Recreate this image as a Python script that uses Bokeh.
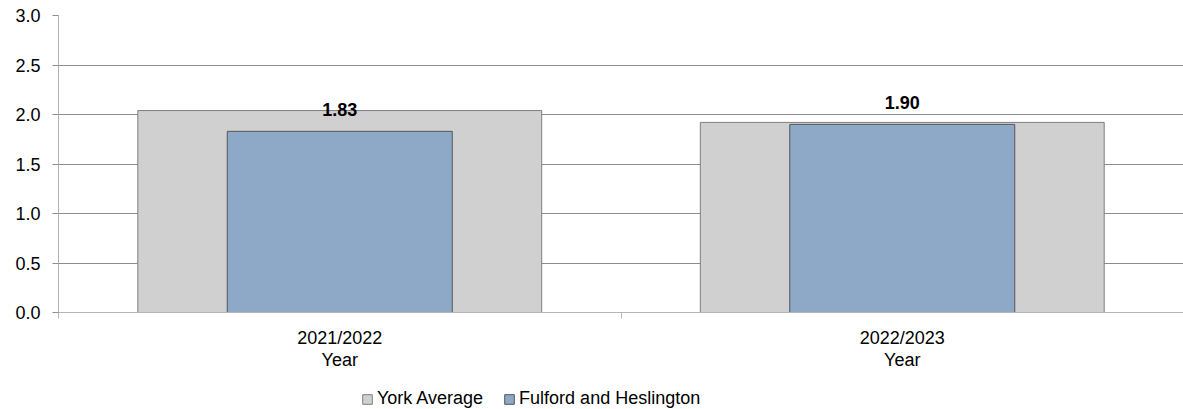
from bokeh.plotting import figure
from bokeh.layouts import column
from bokeh.models import (ColumnDataSource, Range1d, FixedTicker, Legend, LegendItem,
                          LabelSet, CustomJSTickFormatter)
from bokeh.core.properties import value
from bokeh.embed import file_html
from bokeh.resources import INLINE

years = ["2021/2022", "2022/2023"]
york_avg = [2.04, 1.92]
fulford = [1.83, 1.90]
fulford_labels = ["1.83", "1.90"]
y_ticks = [0.0, 0.5, 1.0, 1.5, 2.0, 2.5, 3.0]
series_names = ["York Average", "Fulford and Heslington"]

xs = [i + 0.5 for i in range(len(years))]
src = ColumnDataSource(dict(x=xs, york=york_avg, ful=fulford, lab=fulford_labels))

FONT = "Liberation Sans"
GRAY_FILL, GRAY_LINE = "#d0d0d0", "#7f7f7f"
BLUE_FILL, BLUE_LINE = "#8ea9c8", "#555555"

p = figure(width=1183, height=380, output_backend="svg", toolbar_location=None,
           x_range=Range1d(0, len(years)), y_range=Range1d(0, 3.0),
           min_border_left=58, min_border_right=0, min_border_top=15, min_border_bottom=68)
p.outline_line_color = None
p.xgrid.grid_line_color = None
p.ygrid.grid_line_color = "#8c8c8c"
p.ygrid.ticker = FixedTicker(ticks=y_ticks)

p.vbar(x="x", top="york", width=0.718, source=src, fill_color=GRAY_FILL,
       line_color=GRAY_LINE, line_width=1)
p.vbar(x="x", top="ful", width=0.40, source=src, fill_color=BLUE_FILL,
       line_color=BLUE_LINE, line_width=1)

labels = LabelSet(x="x", y="ful", text="lab", source=src, text_align="center",
                  text_baseline="bottom", y_offset=15, text_font=value(FONT),
                  text_font_size="18px", text_font_style="bold", text_color="#000000")
p.add_layout(labels)

# y axis
p.yaxis.ticker = FixedTicker(ticks=y_ticks)
p.yaxis.formatter = CustomJSTickFormatter(code="return tick.toFixed(1);")
p.yaxis.axis_line_color = "#b4b4b4"
p.yaxis.major_tick_line_color = "#8c8c8c"
p.yaxis.major_tick_out = 6
p.yaxis.major_tick_in = 0
p.yaxis.minor_tick_line_color = None
p.yaxis.major_label_text_font = FONT
p.yaxis.major_label_text_font_size = "18px"
p.yaxis.major_label_text_color = "#000000"
p.yaxis.major_label_standoff = 12

# x axis
p.xaxis.ticker = FixedTicker(ticks=xs, minor_ticks=[0, 1, 2])
p.xaxis.major_label_overrides = {x: f"{y}\nYear" for x, y in zip(xs, years)}
p.xaxis.axis_line_color = "#b4b4b4"
p.xaxis.major_tick_line_color = None
p.xaxis.minor_tick_line_color = "#b4b4b4"
p.xaxis.minor_tick_out = 6
p.xaxis.minor_tick_in = 0
p.xaxis.major_label_text_font = FONT
p.xaxis.major_label_text_font_size = "18px"
p.xaxis.major_label_text_color = "#000000"
p.xaxis.major_label_text_line_height = 1.1
p.xaxis.major_label_standoff = 9

# legend strip (its bars sit outside the strip's visible range; only the legend shows)
lg = figure(width=1183, height=29, output_backend="svg", toolbar_location=None,
            x_range=Range1d(0, len(years)), y_range=Range1d(100, 101),
            x_axis_location=None, y_axis_location=None,
            min_border_left=0, min_border_right=0, min_border_top=0, min_border_bottom=0)
lg.outline_line_color = None
lg.xgrid.grid_line_color = None
lg.ygrid.grid_line_color = None
d1 = lg.vbar(x="x", top="york", width=0.5, source=src, fill_color=GRAY_FILL, line_color=GRAY_LINE)
d2 = lg.vbar(x="x", top="ful", width=0.5, source=src, fill_color=BLUE_FILL, line_color=BLUE_LINE)

legend = Legend(items=[LegendItem(label=series_names[0], renderers=[d1]),
                       LegendItem(label=series_names[1], renderers=[d2])],
                orientation="horizontal", location=(303, 0),
                label_text_font=FONT, label_text_font_size="18px",
                label_text_color="#000000", glyph_width=12, glyph_height=12,
                label_standoff=4, spacing=20, padding=4, margin=0,
                border_line_color=None, background_fill_alpha=0)
lg.add_layout(legend, "center")

layout = column(p, lg, spacing=0)
open("out.html", "w").write(file_html(layout, INLINE))
